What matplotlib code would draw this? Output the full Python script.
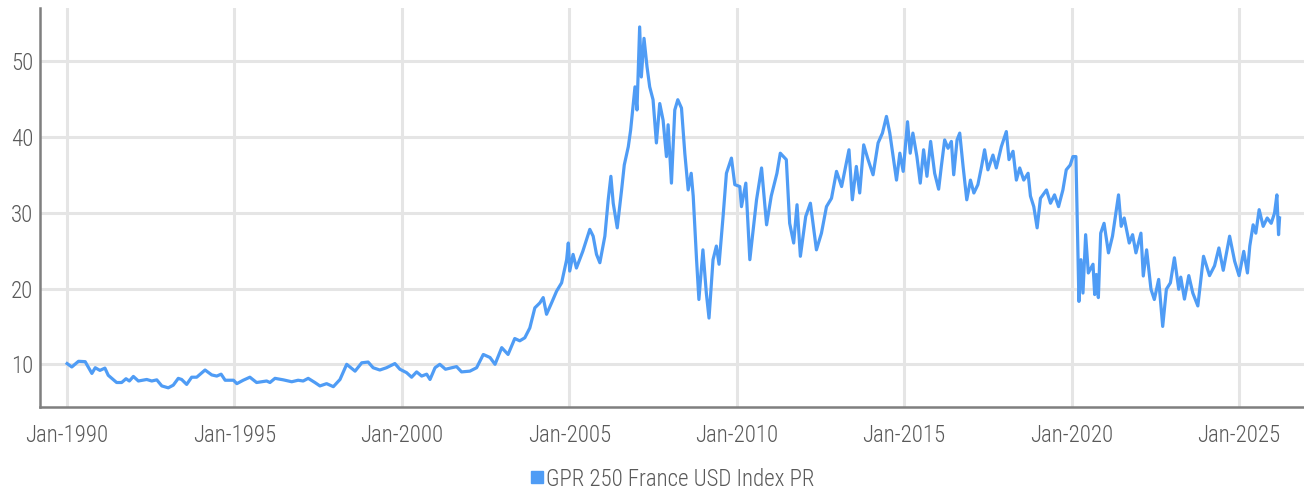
import numpy as np
import pandas as pd
import matplotlib
matplotlib.use('Agg')
import matplotlib.pyplot as plt
import matplotlib.dates as mdates
from matplotlib.lines import Line2D
from matplotlib import font_manager

# condensed face if there is one, else plain Roboto a bit smaller
names = set(f.name for f in font_manager.fontManager.ttflist)
if 'Roboto Condensed' in names:
    fam, fsize = 'Roboto Condensed', 16.5
elif 'Liberation Sans Narrow' in names:
    fam, fsize = 'Liberation Sans Narrow', 16.5
else:
    fam, fsize = 'Roboto', 15.5
plt.rcParams['font.family'] = [fam, 'DejaVu Sans']
plt.rcParams['font.weight'] = 'light'

#%% data (decimal years)
series_name = 'GPR 250 France USD Index PR'

years = [
    1990.00, 1990.14, 1990.34, 1990.54, 1990.74, 1990.84, 1990.98, 1991.13, 1991.23, 1991.48,
    1991.63, 1991.76, 1991.86, 1991.98, 1992.13, 1992.38, 1992.53, 1992.68, 1992.83, 1993.02,
    1993.17, 1993.32, 1993.42, 1993.57, 1993.72, 1993.87, 1994.12, 1994.32, 1994.47, 1994.60,
    1994.72, 1994.97, 1995.07, 1995.26, 1995.46, 1995.66, 1995.96, 1996.06, 1996.21, 1996.46,
    1996.71, 1996.90, 1997.05, 1997.20, 1997.40, 1997.55, 1997.75, 1997.95, 1998.15, 1998.35,
    1998.60, 1998.80, 1998.99, 1999.14, 1999.34, 1999.54, 1999.79, 1999.94, 2000.14, 2000.29,
    2000.44, 2000.59, 2000.74, 2000.84, 2000.99, 2001.13, 2001.30, 2001.63, 2001.78, 2002.03,
    2002.23, 2002.43, 2002.63, 2002.78, 2002.98, 2003.17, 2003.37, 2003.52, 2003.67, 2003.82,
    2003.97, 2004.12, 2004.22, 2004.32, 2004.47, 2004.62, 2004.77, 2004.92, 2004.97, 2005.01,
    2005.11, 2005.21, 2005.40, 2005.61, 2005.71, 2005.81, 2005.91, 2006.06, 2006.16, 2006.24,
    2006.31, 2006.43, 2006.56, 2006.64, 2006.76, 2006.83, 2006.96, 2007.02, 2007.10, 2007.15,
    2007.23, 2007.32, 2007.40, 2007.50, 2007.60, 2007.70, 2007.80, 2007.90, 2007.95, 2008.05,
    2008.15, 2008.24, 2008.35, 2008.45, 2008.55, 2008.64, 2008.70, 2008.80, 2008.87, 2008.99,
    2009.09, 2009.17, 2009.29, 2009.39, 2009.47, 2009.59, 2009.69, 2009.84, 2009.94, 2010.09,
    2010.14, 2010.27, 2010.39, 2010.59, 2010.74, 2010.89, 2011.03, 2011.20, 2011.30, 2011.48,
    2011.58, 2011.70, 2011.80, 2011.90, 2012.06, 2012.20, 2012.38, 2012.53, 2012.68, 2012.83,
    2012.98, 2013.13, 2013.35, 2013.45, 2013.57, 2013.67, 2013.79, 2013.92, 2014.07, 2014.22,
    2014.35, 2014.47, 2014.57, 2014.67, 2014.77, 2014.87, 2014.97, 2015.10, 2015.18, 2015.26,
    2015.38, 2015.48, 2015.58, 2015.68, 2015.79, 2015.91, 2016.03, 2016.11, 2016.21, 2016.31,
    2016.41, 2016.48, 2016.58, 2016.66, 2016.76, 2016.87, 2016.98, 2017.08, 2017.20, 2017.31,
    2017.40, 2017.50, 2017.65, 2017.75, 2017.90, 2018.05, 2018.13, 2018.25, 2018.35, 2018.45,
    2018.57, 2018.70, 2018.77, 2018.87, 2018.97, 2019.07, 2019.25, 2019.37, 2019.49, 2019.61,
    2019.74, 2019.84, 2019.96, 2020.04, 2020.13, 2020.19, 2020.22, 2020.28, 2020.34, 2020.42,
    2020.50, 2020.64, 2020.69, 2020.74, 2020.80, 2020.87, 2020.97, 2021.10, 2021.22, 2021.32,
    2021.40, 2021.48, 2021.57, 2021.72, 2021.82, 2021.92, 2022.07, 2022.14, 2022.24, 2022.37,
    2022.47, 2022.60, 2022.72, 2022.83, 2022.95, 2023.07, 2023.20, 2023.26, 2023.37, 2023.50,
    2023.62, 2023.77, 2023.94, 2024.12, 2024.27, 2024.40, 2024.53, 2024.72, 2024.87, 2025.00,
    2025.14, 2025.25, 2025.32, 2025.42, 2025.50, 2025.60, 2025.72, 2025.84, 2025.96, 2026.06,
    2026.13, 2026.16, 2026.18, 2026.21,
]

values = [
    10.1, 9.65, 10.4, 10.35, 8.8, 9.55, 9.2, 9.5, 8.55, 7.6,
    7.6, 8.1, 7.8, 8.4, 7.8, 8.0, 7.8, 7.95, 7.15, 6.9,
    7.25, 8.15, 8.0, 7.35, 8.3, 8.3, 9.25, 8.6, 8.45, 8.7,
    7.9, 7.9, 7.45, 7.9, 8.3, 7.6, 7.8, 7.6, 8.15, 7.95,
    7.7, 7.9, 7.8, 8.15, 7.6, 7.15, 7.45, 7.05, 8.0, 10.0,
    9.1, 10.2, 10.3, 9.55, 9.25, 9.55, 10.1, 9.35, 8.9, 8.3,
    9.0, 8.45, 8.7, 8.0, 9.55, 10.0, 9.35, 9.7, 9.0, 9.1,
    9.55, 11.3, 10.9, 10.0, 12.2, 11.3, 13.4, 13.1, 13.5, 14.8,
    17.45, 18.1, 18.8, 16.6, 18.1, 19.65, 20.75, 23.8, 26.0, 22.3,
    24.5, 22.7, 24.9, 27.8, 26.9, 24.5, 23.4, 26.9, 31.7, 34.8,
    31.25, 28.0, 33.0, 36.3, 38.7, 40.9, 46.6, 43.55, 54.5, 47.9,
    53.0, 49.25, 46.6, 44.9, 39.2, 44.4, 42.2, 37.4, 41.6, 33.9,
    43.55, 44.9, 43.8, 37.8, 33.0, 35.2, 32.2, 23.8, 18.55, 25.1,
    19.4, 16.1, 23.8, 25.6, 23.2, 29.5, 35.2, 37.2, 33.7, 33.45,
    30.8, 33.9, 23.8, 31.7, 35.9, 28.4, 32.2, 35.2, 37.85, 37.0,
    28.6, 26.0, 31.05, 24.25, 29.5, 31.25, 25.1, 27.3, 30.8, 31.9,
    35.45, 33.45, 38.3, 31.7, 36.1, 32.6, 38.95, 37.0, 35.0, 39.2,
    40.5, 42.7, 40.5, 37.4, 34.3, 37.85, 35.45, 42.0, 37.85, 40.5,
    37.4, 33.9, 38.3, 34.8, 39.4, 35.2, 33.1, 36.1, 39.6, 38.5,
    39.4, 35.0, 39.6, 40.5, 36.1, 31.7, 34.3, 32.6, 33.7, 36.1,
    38.3, 35.65, 37.6, 35.9, 38.7, 40.7, 37.0, 38.1, 34.3, 35.9,
    34.3, 35.2, 32.2, 30.8, 28.0, 31.9, 33.0, 31.25, 32.35, 30.8,
    33.0, 35.65, 36.3, 37.4, 37.4, 25.0, 18.3, 23.8, 19.4, 27.1,
    22.05, 23.2, 19.2, 21.85, 18.8, 27.3, 28.6, 24.7, 26.9, 29.95,
    32.35, 28.2, 29.3, 26.0, 27.1, 24.7, 27.3, 21.65, 25.1, 19.9,
    18.55, 21.2, 15.0, 19.9, 20.75, 24.05, 19.9, 21.5, 18.6, 21.7,
    19.4, 17.7, 24.25, 21.7, 23.0, 25.35, 22.4, 26.9, 23.6, 21.7,
    24.9, 22.05, 25.6, 28.4, 27.3, 30.4, 28.2, 29.3, 28.6, 29.95,
    32.35, 29.1, 27.1, 29.3,
]

tick_years = [1990, 1995, 2000, 2005, 2010, 2015, 2020, 2025]
y_ticks = [10, 20, 30, 40, 50]


def to_date(y):
    y0 = int(y)
    return pd.Timestamp(year=y0, month=1, day=1) + pd.Timedelta(days=(y - y0) * 365.25)


dates = [to_date(y) for y in years]

#%% plot
blue = '#4f9cf5'
grid_c = '#e5e5e5'
text_c = '#595959'

fig = plt.figure(figsize=(13.04, 4.93), dpi=100)
ax = fig.add_axes([40 / 1304, 1 - 407 / 493, 1 - 40 / 1304, (407 - 8) / 493])

ax.plot(dates, values, color=blue, lw=2.3, solid_joinstyle='round')

ax.set_xlim(to_date(1989.19), to_date(2026.94))
ax.set_ylim(4.37, 57.0)
ax.set_xticks([pd.Timestamp(year=y, month=1, day=1) for y in tick_years])
ax.xaxis.set_major_formatter(mdates.DateFormatter('Jan-%Y'))
ax.set_yticks(y_ticks)

ax.grid(True, color=grid_c, lw=2.2)
ax.set_axisbelow(True)
for s in ['top', 'right']:
    ax.spines[s].set_visible(False)
for s in ['left', 'bottom']:
    ax.spines[s].set_color('#7f7f7f')
    ax.spines[s].set_linewidth(1.8)

ax.tick_params(axis='both', length=0, labelsize=fsize, labelcolor=text_c)
ax.tick_params(axis='x', pad=12)
ax.tick_params(axis='y', pad=5)

handle = Line2D([], [], color=blue, marker='s', ls='none', markersize=8.5)
fig.legend([handle], [series_name], loc='center', bbox_to_anchor=(672 / 1304, 1 - 479 / 493),
           frameon=False, fontsize=fsize, labelcolor=text_c, handletextpad=0.05, handlelength=0.7,
           borderpad=0)

fig.savefig('out.png', dpi=100)
